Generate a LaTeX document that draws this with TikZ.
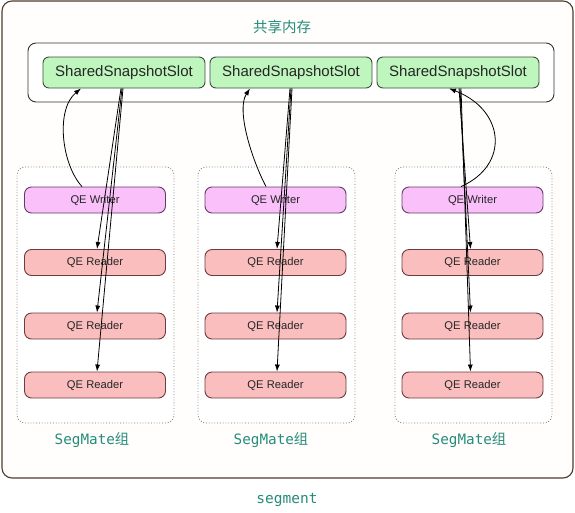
\documentclass[tikz,border=0pt]{standalone}
\usepackage{fontspec}
\setmainfont{Liberation Sans}
\setmonofont{DejaVu Sans Mono}
\newfontfamily\cjk{Noto Sans CJK SC}
\usetikzlibrary{arrows.meta,calc}
\definecolor{tealtxt}{RGB}{38,140,122}
\definecolor{outerbd}{RGB}{80,60,45}
\definecolor{slotfill}{RGB}{190,246,190}
\definecolor{slotbd}{RGB}{60,80,60}
\definecolor{wfill}{RGB}{250,192,250}
\definecolor{wbd}{RGB}{100,60,100}
\definecolor{rfill}{RGB}{250,190,190}
\definecolor{rbd}{RGB}{110,60,60}
\tikzset{
  slotbox/.style={draw=slotbd,line width=0.9pt,fill=slotfill,rounded corners=6pt,minimum width=162pt,minimum height=31pt,inner sep=0pt,font=\fontsize{15}{17}\selectfont,text=black!85},
  writerbox/.style={draw=wbd,line width=0.9pt,fill=wfill,rounded corners=7pt,minimum width=141pt,minimum height=26pt,inner sep=0pt,font=\fontsize{11.2}{13}\selectfont,text=black!85},
  readerbox/.style={draw=rbd,line width=0.9pt,fill=rfill,rounded corners=7pt,minimum width=141pt,minimum height=26pt,inner sep=0pt,font=\fontsize{11.2}{13}\selectfont,text=black!85},
  groupbox/.style={draw=black!55,fill=white,line width=0.8pt,dotted,rounded corners=8pt,minimum width=157pt,minimum height=256pt,inner sep=0pt},
  lbl/.style={text=tealtxt,inner sep=0pt},
  conn/.style={draw=black,line width=0.8pt,-{Latex[length=7pt,width=5pt]}},
}
\begin{document}
\begin{tikzpicture}[x=1pt,y=-1pt]
\useasboundingbox (0,0) rectangle (575,512);
\fill[white] (0,0) rectangle (575,512);
% outer segment box
\node[draw=outerbd,line width=1.1pt,fill=white!99!orange,rounded corners=10pt,minimum width=571pt,minimum height=477pt,inner sep=0pt] (seg) at (287.5,239.5) {};
\node[lbl,font=\cjk\fontsize{14.5}{16}\selectfont] (shm) at (282,27) {共享内存};
\node[draw=black!80,line width=0.9pt,fill=white,rounded corners=8pt,minimum width=526pt,minimum height=59pt,inner sep=0pt] (mem) at (291,72.5) {};
% slots
\node[slotbox] (s1) at (124,72.5) {SharedSnapshotSlot};
\node[slotbox] (s2) at (291,72.5) {SharedSnapshotSlot};
\node[slotbox] (s3) at (458,72.5) {SharedSnapshotSlot};
% groups
\node[groupbox] (g1) at (95.5,295) {};
\node[groupbox] (g2) at (276.5,295) {};
\node[groupbox] (g3) at (473.5,295) {};
% group 1
\node[writerbox] (w1) at (95,200) {QE Writer};
\node[readerbox] (r11) at (95,262.5) {QE Reader};
\node[readerbox] (r12) at (95,326) {QE Reader};
\node[readerbox] (r13) at (95,385) {QE Reader};
% group 2
\node[writerbox] (w2) at (275.5,200) {QE Writer};
\node[readerbox] (r21) at (275.5,262.5) {QE Reader};
\node[readerbox] (r22) at (275.5,326) {QE Reader};
\node[readerbox] (r23) at (275.5,385) {QE Reader};
% group 3
\node[writerbox] (w3) at (472.5,200) {QE Writer};
\node[readerbox] (r31) at (472.5,262.5) {QE Reader};
\node[readerbox] (r32) at (472.5,326) {QE Reader};
\node[readerbox] (r33) at (472.5,385) {QE Reader};
% labels
\node[lbl,font=\ttfamily\fontsize{14.3}{16}\selectfont] (l1) at (92,440) {SegMate{\cjk 组}};
\node[lbl,font=\ttfamily\fontsize{14.3}{16}\selectfont] (l2) at (271,440) {SegMate{\cjk 组}};
\node[lbl,font=\ttfamily\fontsize{14.3}{16}\selectfont] (l3) at (469,440) {SegMate{\cjk 组}};
\node[lbl,font=\ttfamily\fontsize{14.5}{16}\selectfont] (lseg) at (287,500) {segment};
% writer -> slot curves
\draw[conn] ([xshift=-13pt]w1.north) .. controls (62,165) and (55,110) .. ([xshift=-43pt]s1.south);
\draw[conn] ([xshift=-9.5pt]w2.north) .. controls (252,160) and (236,110) .. ([xshift=-41pt]s2.south);
\draw[conn] ([xshift=-11.5pt]w3.north) .. controls (510,165) and (505,110) .. ([xshift=-9pt]s3.south);
% slot -> readers
\draw[conn] ([xshift=-3pt]s1.south) -- ([xshift=2pt]r11.north);
\draw[conn] ([xshift=-2pt]s1.south) -- ([xshift=2pt]r12.north);
\draw[conn] ([xshift=-1pt]s1.south) -- ([xshift=2pt]r13.north);
\draw[conn] ([xshift=-1pt]s2.south) -- ([xshift=1.5pt]r21.north);
\draw[conn] ([xshift=0pt]s2.south) -- ([xshift=1.5pt]r22.north);
\draw[conn] ([xshift=1pt]s2.south) -- ([xshift=1.5pt]r23.north);
\draw[conn] ([xshift=1pt]s3.south) -- ([xshift=-2pt]r31.north);
\draw[conn] ([xshift=2pt]s3.south) -- ([xshift=-2pt]r32.north);
\draw[conn] ([xshift=3pt]s3.south) -- ([xshift=-2pt]r33.north);
\end{tikzpicture}
\end{document}
